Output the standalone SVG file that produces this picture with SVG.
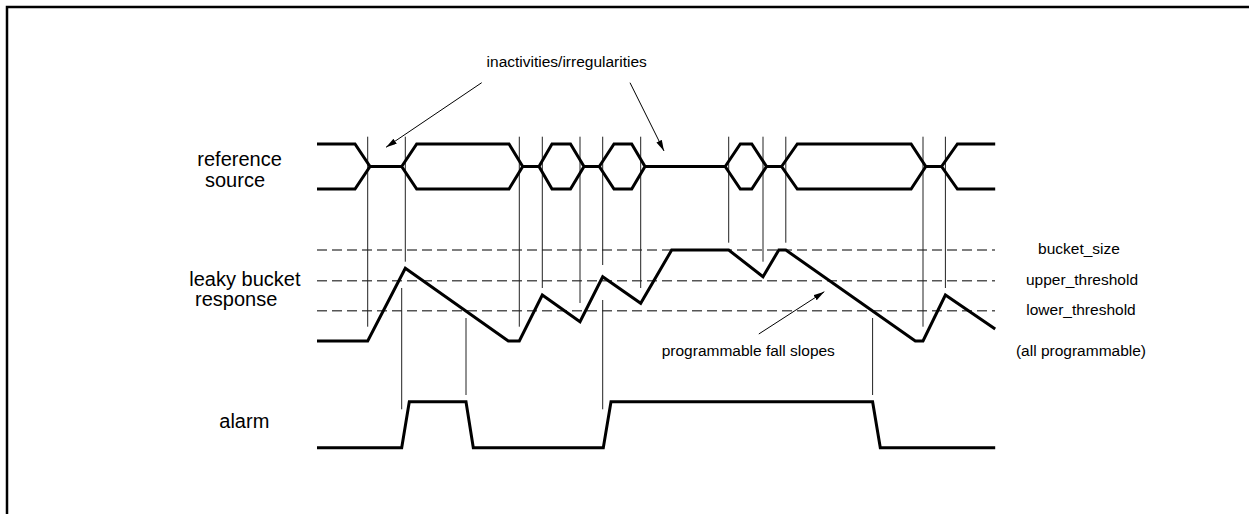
<svg xmlns="http://www.w3.org/2000/svg" width="1249" height="514" viewBox="0 0 1249 514">
<defs>
<style>
.lbl{font-family:"Liberation Sans",Arial,sans-serif;font-size:20px;fill:#000}
.sm{font-family:"Liberation Sans",Arial,sans-serif;font-size:15.5px;fill:#000}
.sig{fill:none;stroke:#000;stroke-width:3;stroke-linejoin:miter}
.vl{fill:none;stroke:#222;stroke-width:1}
.dash{fill:none;stroke:#555;stroke-width:1.5;stroke-dasharray:10 5}
.arr{fill:none;stroke:#000;stroke-width:1;marker-end:url(#ah)}
</style>
<marker id="ah" markerUnits="userSpaceOnUse" markerWidth="12" markerHeight="8" refX="11" refY="3" orient="auto">
<path d="M0,0 L11,3 L0,6 z" fill="#000"/>
</marker>
</defs>
<rect x="0" y="0" width="1249" height="514" fill="#fff"/>
<path d="M7,520 V7 H1260" fill="none" stroke="#000" stroke-width="2.5"/>

<g id="labels">
<text class="lbl" x="197.3" y="166">reference</text>
<text class="lbl" x="205" y="186.8">source</text>
<text class="lbl" x="189.3" y="285.6">leaky bucket</text>
<text class="lbl" x="195" y="306">response</text>
<text class="lbl" x="219.3" y="428.3">alarm</text>
</g>

<g id="thresholds">
<line class="dash" x1="317" y1="250" x2="995" y2="250"/>
<line class="dash" x1="317" y1="280.7" x2="995" y2="280.7"/>
<line class="dash" x1="317" y1="310.7" x2="995" y2="310.7"/>
<text class="sm" x="1079" y="254" text-anchor="middle">bucket_size</text>
<text class="sm" x="1082" y="284.5" text-anchor="middle">upper_threshold</text>
<text class="sm" x="1081" y="315" text-anchor="middle">lower_threshold</text>
<text class="sm" x="1081" y="355.5" text-anchor="middle">(all programmable)</text>
</g>

<g id="connectors">
<line class="vl" x1="367.7" y1="136.7" x2="367.7" y2="326.7"/>
<line class="vl" x1="405.3" y1="136.7" x2="405.3" y2="261.7"/>
<line class="vl" x1="519.3" y1="136.7" x2="519.3" y2="326.7"/>
<line class="vl" x1="542.3" y1="136.7" x2="542.3" y2="288"/>
<line class="vl" x1="580" y1="136.7" x2="580" y2="303"/>
<line class="vl" x1="602.7" y1="136.7" x2="602.7" y2="265"/>
<line class="vl" x1="640.7" y1="136.7" x2="640.7" y2="288"/>
<line class="vl" x1="728.7" y1="136.7" x2="728.7" y2="242.7"/>
<line class="vl" x1="763" y1="136.7" x2="763" y2="261.7"/>
<line class="vl" x1="785.8" y1="136.7" x2="785.8" y2="242.7"/>
<line class="vl" x1="923" y1="136.7" x2="923" y2="326.7"/>
<line class="vl" x1="945.4" y1="136.7" x2="945.4" y2="288"/>
<line class="vl" x1="401.7" y1="288" x2="401.7" y2="409.3"/>
<line class="vl" x1="466" y1="318" x2="466" y2="395"/>
<line class="vl" x1="602.7" y1="300" x2="602.7" y2="409.3"/>
<line class="vl" x1="872.6" y1="318" x2="872.6" y2="395"/>
<line class="arr" x1="481.7" y1="82.7" x2="386" y2="147.3"/>
<line class="arr" x1="630" y1="82.7" x2="664" y2="151"/>
<line class="arr" x1="758.8" y1="334" x2="824.3" y2="291.7"/>
</g>

<g id="annotations">
<text class="sm" x="566.7" y="66.7" text-anchor="middle">inactivities/irregularities</text>
<text class="sm" x="748.3" y="355.5" text-anchor="middle">programmable fall slopes</text>
</g>

<g id="reference-source">
<path class="sig" d="M317,144 H355 L370,166.5 L355,189 H317"/>
<path class="sig" d="M370,166.5 H401.7"/>
<path class="sig" d="M401.7,166.5 L416.7,144 H509 L522.7,166.5 L509,189 H416.7 Z"/>
<path class="sig" d="M522.7,166.5 H539"/>
<path class="sig" d="M539,166.5 L552,144 H570.5 L584,166.5 L570.5,189 H552 Z"/>
<path class="sig" d="M584,166.5 H599.3"/>
<path class="sig" d="M599.3,166.5 L614,144 H631.7 L645,166.5 L631.7,189 H614 Z"/>
<path class="sig" d="M645,166.5 H725.2"/>
<path class="sig" d="M725.2,166.5 L740.3,144 H751.8 L766.5,166.5 L751.8,189 H740.3 Z"/>
<path class="sig" d="M766.5,166.5 H781.6"/>
<path class="sig" d="M781.6,166.5 L797.3,144 H911.1 L925.8,166.5 L911.1,189 H797.3 Z"/>
<path class="sig" d="M925.8,166.5 H941.6"/>
<path class="sig" d="M995.2,144 H957.4 L941.6,166.5 L957.4,189 H995.2"/>
</g>

<g id="leaky-bucket-response">
<path class="sig" d="M317,341 H367.7 L405.3,268.3 L508.3,341 H519.3 L542.3,295 L580,321.7 L602.7,276.7 L640.7,303.3 L671.7,250 H728.7 L763,276.7 L778.8,250 H785.8 L915.3,341 H923 L945.4,295 L995.2,329"/>
</g>

<g id="alarm">
<path class="sig" d="M317,447.7 H401.7 L409.3,401.7 H466 L473.3,447.7 H603.3 L611,401.7 H872.6 L880.3,447.7 H995.2"/>
</g>
</svg>
